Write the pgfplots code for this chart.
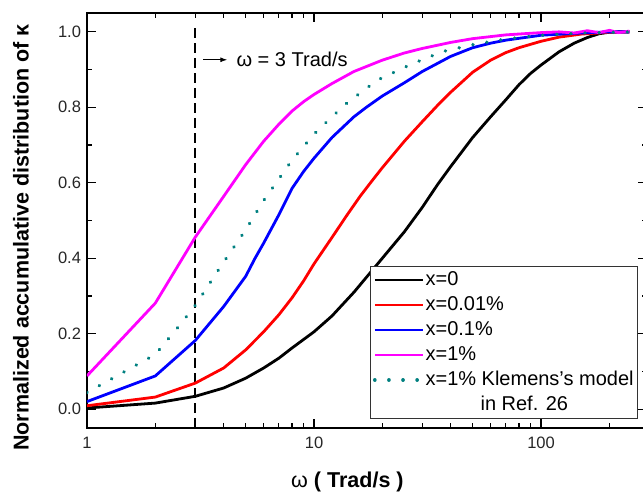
\documentclass[border=0pt]{standalone}
\usepackage{fontspec}
\setmainfont{Liberation Sans}
\usepackage{pgfplots}
\pgfplotsset{compat=1.18}
\usetikzlibrary{arrows.meta}
\definecolor{kteal}{RGB}{0,128,128}
\definecolor{kmag}{RGB}{255,0,255}
\definecolor{kred}{RGB}{255,0,0}
\definecolor{kblue}{RGB}{0,0,255}
\begin{document}
\begin{tikzpicture}
\useasboundingbox (0,0) rectangle (643pt,493pt);
\begin{semilogxaxis}[
  at={(87pt,65pt)}, anchor=south west,
  scale only axis, width=560pt, height=415pt,
  xmin=1, xmax=293, ymin=-0.05, ymax=1.05,
  xtick={1,10,100}, xticklabels={1,10,100},
  minor xtick={2,3,4,5,6,7,8,9,20,30,40,50,60,70,80,90,200},
  ytick={0,0.2,0.4,0.6,0.8,1.0},
  minor ytick={0.1,0.3,0.5,0.7,0.9},
  yticklabel style={/pgf/number format/fixed, /pgf/number format/fixed zerofill, /pgf/number format/precision=1, xshift=-2.5pt},
  /pgf/number format/assume math mode=true,
  tick label style={font=\fontsize{16.5}{18}\selectfont, text=black!85},
  xticklabel style={yshift=-5.5pt},
  tick align=inside, major tick length=9pt, minor tick length=5pt,
  every tick/.style={black, line width=1.1pt},
  axis line style={line width=1.6pt},
  xlabel={{\mdseries ω} ( Trad/s )},
  xlabel style={font=\bfseries\fontsize{21.5}{24}\selectfont, at={(axis description cs:0.465,-0.13)}, anchor=center},
  ylabel={Normalized accumulative distribution of κ},
  ylabel style={font=\bfseries\fontsize{21.5}{24}\selectfont, at={(axis description cs:-0.1179,0.459)}, anchor=center},
  legend style={at={(0.984,0.022)}, anchor=south east, draw=black!80, line width=0.8pt, inner xsep=3pt, inner ysep=1pt, font=\fontsize{20}{24}\selectfont, nodes={inner xsep=1pt, inner ysep=2.5pt, text height=16pt, text depth=4pt}, row sep=0pt},
  legend cell align=left,
  legend image code/.code={\draw[#1] (0pt,0pt) -- (48pt,0pt);},
]
\addplot[black, line width=2.2pt, dash pattern=on 10pt off 5pt, forget plot] coordinates {(3,-0.05) (3,1.02)};

\addplot[black, line width=2.8pt] coordinates {
(1,0.003)(2,0.016)(3,0.034)(4,0.056)(5,0.082)(6,0.109)(7,0.135)(8,0.162)(10,0.205)(12,0.247)(15,0.31)(20,0.40)(25,0.47)(30,0.535)(35,0.595)(40,0.643)(50,0.72)(60,0.775)(70,0.82)(80,0.86)(90,0.89)(100,0.912)(120,0.947)(140,0.97)(160,0.985)(180,0.995)(200,0.999)(220,1.0)(245,1.0)};
\addlegendentry{x=0}

\addplot[kred, line width=2.8pt] coordinates {
(1,0.009)(2,0.032)(3,0.069)(4,0.109)(5,0.157)(6,0.205)(7,0.25)(8,0.295)(9,0.34)(10,0.385)(12,0.455)(14,0.515)(16,0.565)(18,0.605)(20,0.64)(25,0.71)(30,0.762)(35,0.805)(40,0.84)(50,0.893)(60,0.925)(70,0.945)(80,0.958)(100,0.975)(120,0.986)(150,0.994)(200,0.999)(245,1.0)};
\addlegendentry{x=0.01\%}

\addplot[kblue, line width=2.8pt] coordinates {
(1,0.02)(2,0.088)(3,0.182)(4,0.272)(5,0.352)(5.5,0.4)(6,0.44)(7,0.515)(8,0.585)(9,0.63)(10,0.665)(12,0.72)(15,0.775)(17,0.80)(20,0.83)(25,0.865)(30,0.895)(40,0.935)(50,0.958)(60,0.97)(70,0.978)(100,0.991)(150,0.997)(200,1.0)(245,1.0)};
\addlegendentry{x=0.1\%}

\addplot[kmag, line width=2.8pt] coordinates {
(1,0.088)(2,0.281)(3,0.456)(4,0.564)(5,0.648)(6,0.71)(7,0.755)(8,0.79)(9,0.815)(10,0.834)(12,0.863)(15,0.895)(20,0.925)(25,0.944)(30,0.956)(40,0.972)(50,0.982)(70,0.992)(100,0.998)(120,1.0)(140,0.997)(160,1.003)(180,0.998)(200,1.004)(220,0.998)(245,1.002)};
\addlegendentry{x=1\%}

\addplot[kteal, line width=3.6pt, line cap=round, dash pattern=on 0.1pt off 14pt] coordinates {
(1,0.044)(2,0.145)(2.5,0.215)(3,0.275)(4,0.39)(5,0.475)(6,0.553)(7,0.61)(8,0.66)(10,0.729)(12,0.775)(14,0.812)(19,0.872)(27,0.915)(37,0.948)(50,0.966)(70,0.981)(100,0.991)(150,0.997)(245,1.0)};
\addlegendentry{x=1\% Klemens's model}
\addlegendimage{empty legend}
\addlegendentry{\hspace*{55pt}in Ref. 26}

\draw[line width=1pt, -{Latex[length=7pt,width=5pt]}] (axis cs:3.25,0.926) -- (axis cs:4.15,0.926);
\node[anchor=west, font=\fontsize{20}{24}\selectfont, inner sep=0pt] at (axis cs:4.55,0.926) {ω = 3 Trad/s};
\end{semilogxaxis}
\end{tikzpicture}
\end{document}
